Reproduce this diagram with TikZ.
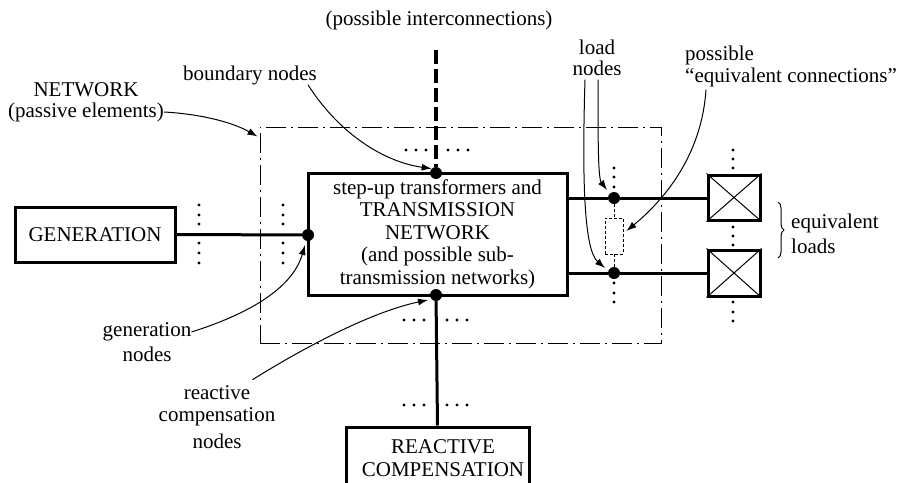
\documentclass[tikz,border=0pt]{standalone}
\usepackage{fontspec}
\setmainfont{Liberation Serif}
\usetikzlibrary{arrows.meta,decorations.pathreplacing,calc}

\begin{document}
\begin{tikzpicture}[x=1pt,y=-1pt,
  txt/.style={font=\fontsize{21}{22.5}\selectfont},
  lbl/.style={txt, inner sep=0pt},
  heavybox/.style={draw, line width=3pt, inner sep=0pt, txt},
  wire/.style={line width=3pt},
  pointer/.style={line width=1pt, -{Latex[length=10pt,width=7pt]}},
  jn/.style={circle, fill, inner sep=0pt, minimum size=12pt},
  dashdot/.style={line width=1pt, dash pattern=on 20pt off 5pt on 2pt off 5pt},
]
\useasboundingbox (0,0) rectangle (897,482);

% network boundary (passive elements)
\node[draw, dashdot, inner sep=0pt, minimum width=401pt, minimum height=216pt] (net) at (460.5,235) {};

% main blocks
\node[heavybox, minimum width=160pt, minimum height=55pt] (gen) at (95,234.5) {GENERATION};
\node[heavybox, minimum width=259pt, minimum height=122pt, align=center] (tx) at (437.5,234)
  {step-up transformers and\\TRANSMISSION\\NETWORK\\(and possible sub-\\transmission networks)};
\node[heavybox, minimum width=183pt, minimum height=62pt] (rc) at (437.5,458) {};
\node[lbl, align=center] (rct) at (443,458) {REACTIVE\\COMPENSATION};

% equivalent loads
\node[heavybox, minimum width=52pt, minimum height=45pt] (ld1) at (734,197.5) {};
\node[heavybox, minimum width=52pt, minimum height=46pt] (ld2) at (734,273) {};
\draw[line width=1pt] (ld1.north west) -- (ld1.south east) (ld1.north east) -- (ld1.south west);
\draw[line width=1pt] (ld2.north west) -- (ld2.south east) (ld2.north east) -- (ld2.south west);

% junction nodes
\node[jn] (bn) at (436,173) {};
\node[jn] (gn) at (308,235) {};
\node[jn] (cn) at (436,295) {};
\node[jn] (ln1) at (614,198) {};
\node[jn] (ln2) at (614,273) {};

% connections
\coordinate (ic) at (436,50);
\draw[line width=3.2pt, dash pattern=on 14pt off 5pt] (ic) -- (bn);
\draw[wire] (gen.east) -- (gn);
\draw[wire] (cn) -- (rc.north);
\draw[wire] (tx.east |- ln1) -- (ln1) -- (ld1.west |- ln1);
\draw[wire] (tx.east |- ln2) -- (ln2) -- (ld2.west |- ln2);

% possible equivalent connection
\node[draw, line width=0.9pt, dash pattern=on 3pt off 2pt, inner sep=0pt,
      minimum width=18pt, minimum height=36pt] (eq) at (614,236) {};
\draw[line width=0.9pt, dash pattern=on 3pt off 2pt] (ln1) -- (eq.north) (eq.south) -- (ln2);

% continuation dots
\foreach \y in {205,215,224,243,253,263} {
  \fill (199,\y) circle[radius=1.7pt];
  \fill (283,\y) circle[radius=1.7pt];
}
\foreach \y in {168,177,187,283,293,302}
  \fill (614,\y) circle[radius=1.7pt];
\foreach \y in {150,159,168,227,236,245,302,312,321}
  \fill (733,\y) circle[radius=1.7pt];
\foreach \x in {406,416,426,448,458,468}
  \fill (\x,150) circle[radius=1.7pt];
\foreach \x in {404,414,424,447,457,467} {
  \fill (\x,320) circle[radius=1.7pt];
  \fill (\x,405) circle[radius=1.7pt];
}

% brace for the loads
\draw[line width=1pt, decorate, decoration={brace, amplitude=6pt}] (778,202) -- (778,258);

% labels
\node[lbl] (ttl) at (439,20) {(possible interconnections)};
\node[lbl] (netA) at (86,90) {NETWORK};
\node[lbl] (netB) at (86,112) {(passive elements)};
\node[lbl] (bdl) at (250,75) {boundary nodes};
\node[lbl] (gl1) at (147,332) {generation};
\node[lbl] (gl2) at (147,354) {nodes};
\node[lbl] (rl1) at (217,393) {reactive};
\node[lbl] (rl2) at (217,417) {compensation};
\node[lbl] (rl3) at (217,441) {nodes};
\node[lbl] (ll1) at (597,47) {load};
\node[lbl] (ll2) at (597,68) {nodes};
\node[lbl, anchor=west] (pl1) at (685,55) {possible};
\node[lbl, anchor=west] (pl2) at (685,77) {“equivalent connections”};
\node[lbl, anchor=west] (el1) at (791,223) {equivalent};
\node[lbl, anchor=west] (el2) at (791,246) {loads};

% pointers
\draw[pointer] (netB.east) .. controls (200,114) and (232,122) .. ($(net.north west)+(-2,10)$);
\draw[pointer] ($(bdl.south east)+(-9,0)$) .. controls (340,135) and (385,162) .. (bn.north west);
\draw[pointer] (gl1.east) .. controls (245,315) and (292,290) .. ($(gn)+(-3,10)$);
\draw[pointer] ($(rl1.north east)+(2,-6)$) .. controls (300,350) and (370,312) .. ($(cn)+(-8,5)$);
\draw[pointer] ($(ll2.south)+(-12,4)$) .. controls (582,180) and (584,250) .. ($(ln2)+(-9,-5)$);
\draw[pointer] ($(ll2.south)+(1,4)$) .. controls (598,140) and (598,178) .. ($(ln1)+(-7,-8)$);
\draw[pointer] ($(pl2.south west)+(21,3)$) .. controls (702,150) and (670,195) .. ($(eq.east)+(3,-5)$);
\end{tikzpicture}
\end{document}
